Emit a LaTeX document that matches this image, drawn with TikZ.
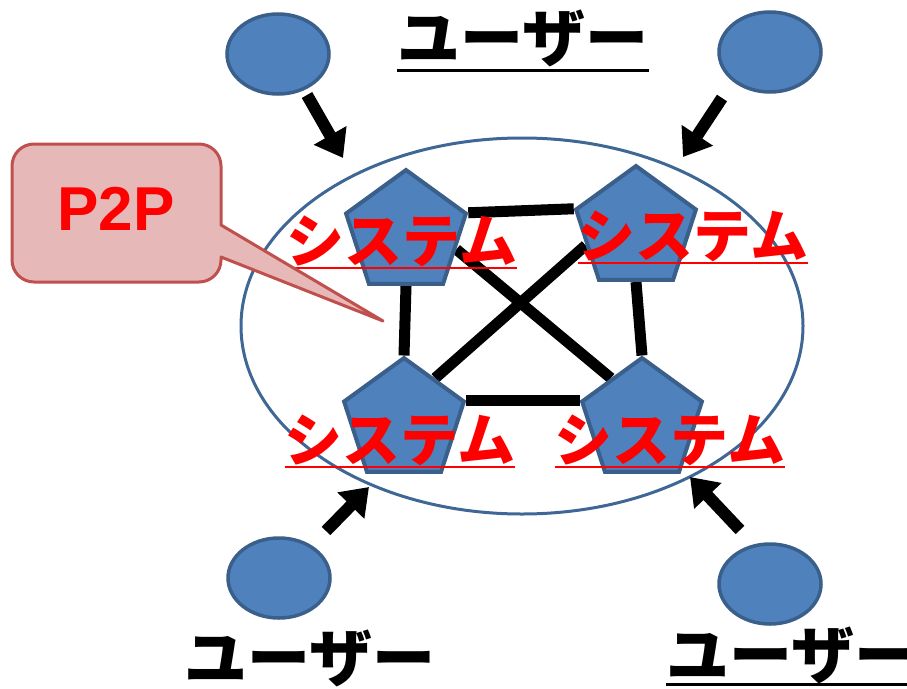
\documentclass[tikz,border=0pt]{standalone}
\usepackage{fontspec}
\newfontfamily\jpfont{Noto Sans CJK JP}
\newfontfamily\latfont{Liberation Sans}
\usetikzlibrary{shapes.geometric,arrows.meta,backgrounds}
\definecolor{userfill}{HTML}{4F81BD}
\definecolor{userborder}{HTML}{3A5F8B}
\definecolor{bigborder}{HTML}{3E6796}
\definecolor{calloutfill}{HTML}{E6B9B8}
\definecolor{calloutborder}{HTML}{C0504D}
\begin{document}
\begin{tikzpicture}[x=1pt,y=-1pt,
  user/.style={ellipse, draw=userborder, fill=userfill, line width=3.5pt, minimum width=102pt, minimum height=80pt, inner sep=0},
  sysnode/.style={regular polygon, regular polygon sides=5, minimum size=126pt, draw=userborder, fill=userfill, line width=4pt, inner sep=0},
  link/.style={line width=11pt, black},
  bigarrow/.style={line width=12pt, black, -{Triangle[width=36pt,length=26pt]}},
  syslabel/.style={text=red, font=\jpfont\bfseries\fontsize{58}{60}\selectfont, inner sep=0, anchor=base},
  userlabel/.style={text=black, font=\jpfont\bfseries\fontsize{63}{66}\selectfont, inner sep=0, anchor=base},
  redline/.style={red, line width=2.5pt},
  blackline/.style={black, line width=3pt},
]
\useasboundingbox (0,0) rectangle (907,688);

% system pentagons
\node[sysnode] (s1) at (406,233) {};
\node[sysnode] (s2) at (636,229) {};
\node[sysnode] (s3) at (404,421) {};
\node[sysnode] (s4) at (642,421) {};

\begin{pgfonlayer}{background}
\node[ellipse, draw=bigborder, line width=3pt, minimum width=562pt, minimum height=376pt, inner sep=0] (net) at (522,326) {};
\draw[link] (s1.corner 5) -- (s2.corner 2);
\draw[link] (s3.corner 5) -- (s4.corner 2);
\draw[link] (s1.side 3) -- (s3.corner 1);
\draw[link] (s2.side 3) -- (s4.corner 1);
\draw[link] (s1.side 4) -- (s4.side 1);
\draw[link] (s2.side 2) -- (s3.side 5);
\end{pgfonlayer}

% system labels
\node[syslabel] (l1) at (402,262) {システム};
\node[syslabel] (l2) at (693,257) {システム};
\node[syslabel] (l3) at (400,461) {システム};
\node[syslabel] (l4) at (670,461) {システム};
\foreach \l in {l1,l2,l3,l4}
  \draw[redline] ([yshift=-6pt]\l.base west) -- ([yshift=-6pt]\l.base east);

% users
\node[user] (u1) at (278,54) {};
\node[user] (u2) at (770,52) {};
\node[user] (u3) at (279,578) {};
\node[user] (u4) at (770,584) {};

% arrows
\coordinate (a1s) at (307,95);  \coordinate (a1e) at (343,158);
\coordinate (a2s) at (722,98);  \coordinate (a2e) at (683,157);
\coordinate (a3s) at (326,531); \coordinate (a3e) at (369,487);
\coordinate (a4s) at (740,530); \coordinate (a4e) at (690,477);
\draw[bigarrow] (a1s) -- (a1e);
\draw[bigarrow] (a2s) -- (a2e);
\draw[bigarrow] (a3s) -- (a3e);
\draw[bigarrow] (a4s) -- (a4e);

% user labels
\node[userlabel] (t1) at (523,61) {ユーザー};
\draw[blackline] ([yshift=-9pt]t1.base west) -- ([yshift=-9pt]t1.base east);
\node[userlabel] (t2) at (310,681) {ユーザー};
\node[userlabel] (t3) at (792,678) {ユーザー};
\draw[blackline] ([yshift=-6pt]t3.base west) -- ([yshift=-6pt]t3.base east);

% callout
\coordinate (tip) at (383,321);
\draw[fill=calloutfill, draw=calloutborder, line width=3pt, line join=round]
  (34,144) -- (199,144) arc[start angle=-90, end angle=0, radius=22]
  -- (221,225) -- (tip) -- (221,257) -- (221,260)
  arc[start angle=0, end angle=90, radius=22]
  -- (34,282) arc[start angle=90, end angle=180, radius=22]
  -- (12,166) arc[start angle=180, end angle=270, radius=22] -- cycle;
\node[text=red, font=\latfont\bfseries\fontsize{62}{64}\selectfont, inner sep=0, anchor=base] (p2p) at (116,230) {P2P};
\end{tikzpicture}
\end{document}
